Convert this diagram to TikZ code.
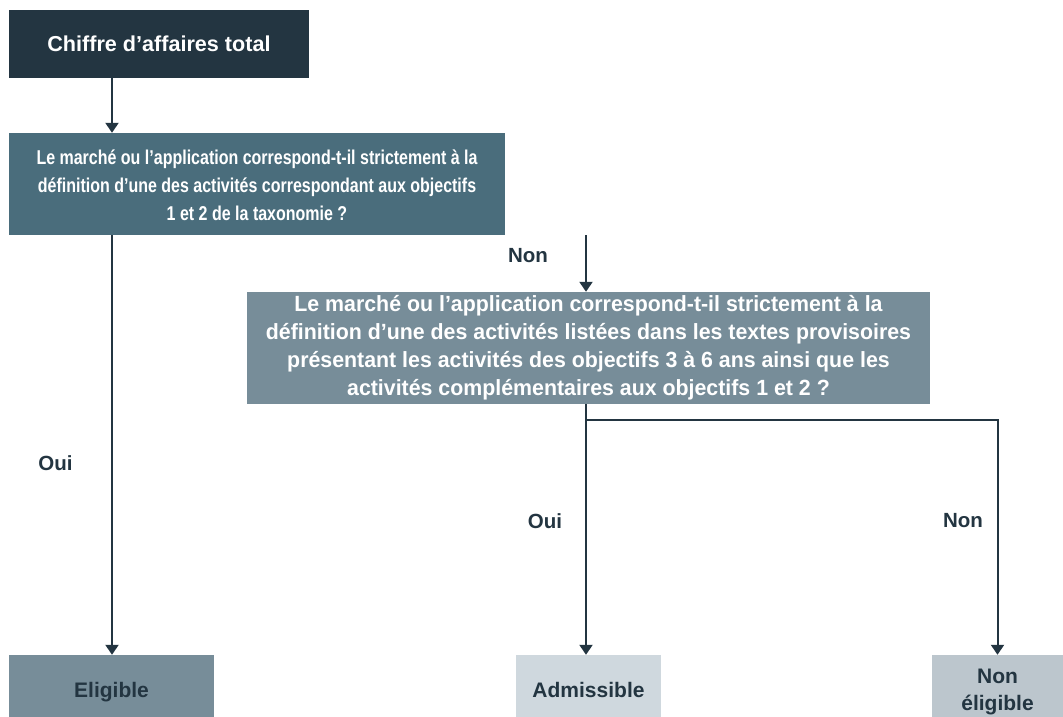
\documentclass[tikz,border=0pt]{standalone}
\usepackage{fontspec}
\setmainfont{Liberation Sans}
\newfontfamily\narrowsans[FakeStretch=0.80]{Liberation Sans}
\newfontfamily\semisans[FakeStretch=0.97]{Liberation Sans}
\usetikzlibrary{arrows.meta,calc}
\definecolor{cdark}{HTML}{233541}
\definecolor{cmid}{HTML}{4A6D7C}
\definecolor{cgrey}{HTML}{778D99}
\definecolor{clight}{HTML}{CFD8DE}
\definecolor{clight2}{HTML}{BCC6CD}
\tikzset{
  box/.style={draw=none, rectangle, inner sep=0pt, align=center},
  wbox/.style={box, text=white},
  dbox/.style={box, text=cdark, font=\fontsize{21}{27}\selectfont\bfseries},
  lbl/.style={text=cdark, font=\fontsize{20.5}{24}\selectfont\bfseries, inner sep=0pt},
  arr/.style={draw=cdark, line width=2pt, -{Triangle[width=13pt,length=10pt]}},
  ln/.style={draw=cdark, line width=2pt}
}
\begin{document}
\begin{tikzpicture}[x=1pt,y=-1pt]
\useasboundingbox (0,0) rectangle (1063,717);
\node[wbox, fill=cdark, minimum width=300pt, minimum height=68pt, font=\fontsize{21.6}{26}\selectfont\bfseries] (b1) at (159,44) {Chiffre d’affaires total};
\node[wbox, fill=cmid, minimum width=496pt, minimum height=102pt, font=\narrowsans\fontsize{20}{28}\selectfont\bfseries] (b2) at (257,184)
  {\rule{0pt}{18pt}Le marché ou l’application correspond-t-il strictement à la\\définition d’une des activités correspondant aux objectifs\\1 et 2 de la taxonomie ?};
\node[wbox, fill=cgrey, minimum width=683pt, minimum height=112pt, font=\semisans\fontsize{22}{28}\selectfont\bfseries] (b3) at (588.5,348)
  {Le marché ou l’application correspond-t-il strictement à la\\définition d’une des activités listées dans les textes provisoires\\présentant les activités des objectifs 3 à 6 ans ainsi que les\\activités complémentaires aux objectifs 1 et 2 ?};
\node[dbox, fill=cgrey, minimum width=205pt, minimum height=62pt, text height=22pt, text depth=0pt] (elig) at (111.5,686) {Eligible};
\node[dbox, fill=clight, minimum width=145pt, minimum height=62pt, text height=22pt, text depth=0pt] (adm) at (588.5,686) {Admissible};
\node[dbox, fill=clight2, minimum width=131pt, minimum height=62pt] (nel) at (997.5,686) {\raisebox{-11pt}[0pt][0pt]{\parbox{125pt}{\centering\fontsize{21}{27}\selectfont Non\\éligible}}};
\coordinate (j) at (586,420);
\draw[arr] (b1.south -| 112,0) -- (b2.north -| 112,0);
\draw[arr] (b2.south -| j) -- (b3.north -| j);
\draw[arr] (b2.south -| 112,0) -- (elig.north -| 112,0);
\draw[ln] (b3.south -| j) -- (j);
\draw[arr] (j) -- (adm.north -| j);
\draw[arr] (j) -| (nel.north);
\node[lbl] (l1) at (528,256) {Non};
\node[lbl] (l2) at (55.5,463) {Oui};
\node[lbl] (l3) at (545,521) {Oui};
\node[lbl] (l4) at (963,521) {Non};
\end{tikzpicture}
\end{document}
